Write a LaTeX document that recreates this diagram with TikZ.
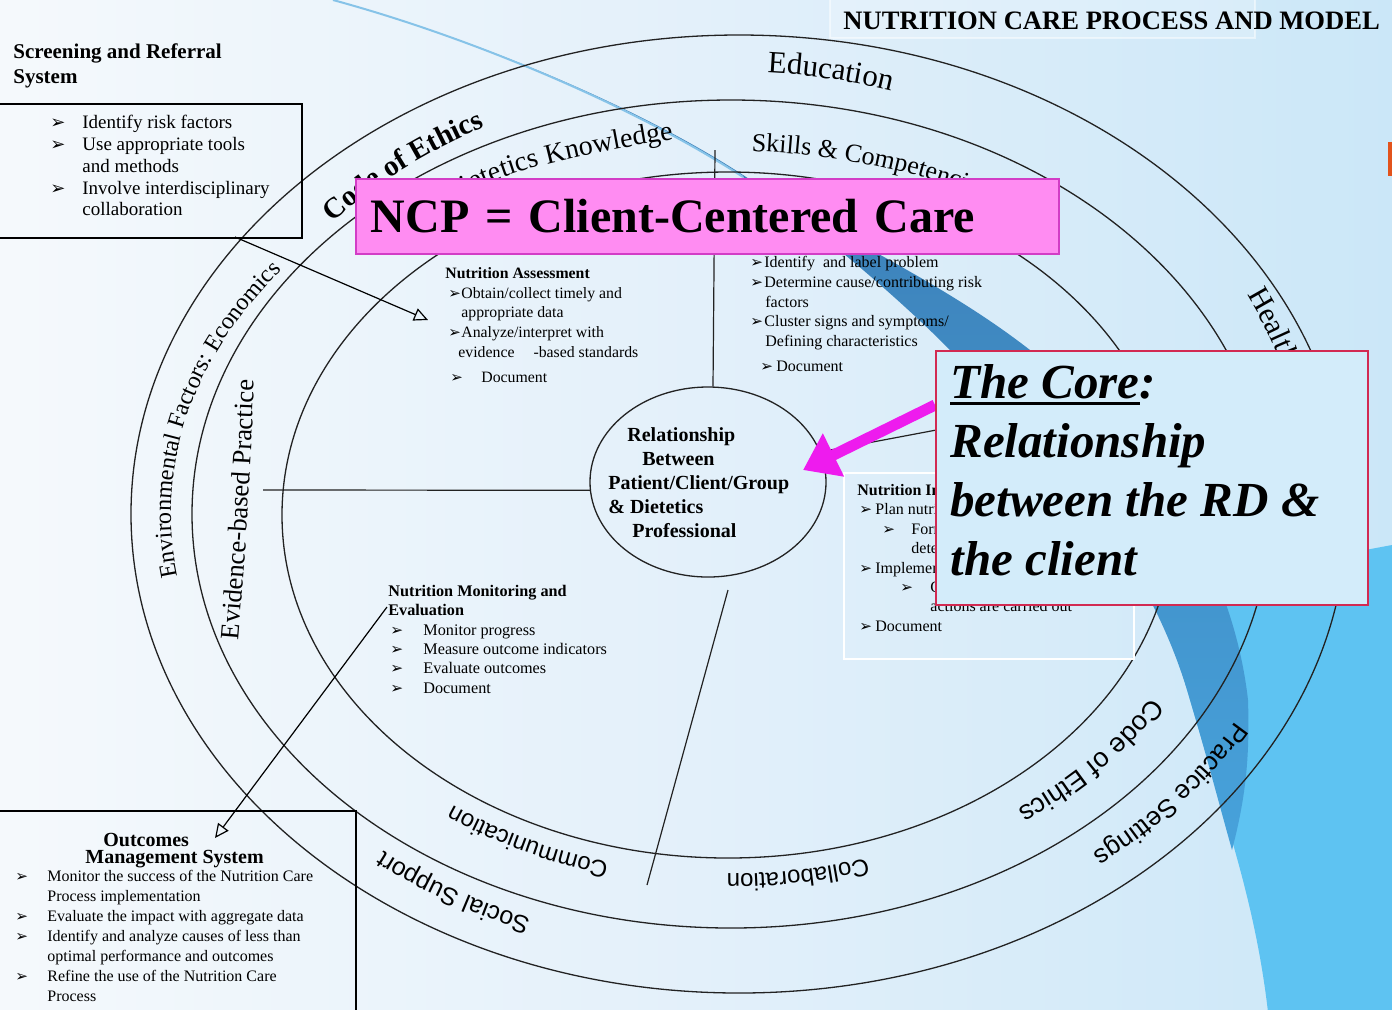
\documentclass[tikz,border=0pt]{standalone}
\usepackage{fontspec}
\setmainfont{Liberation Serif}
\setsansfont{Liberation Sans}
\newfontfamily\dingfont[Scale=0.95]{DejaVu Sans}
\usepackage{xcolor}
\usetikzlibrary{positioning,arrows.meta,shapes.geometric,decorations.text}

\definecolor{SlideLeft}{HTML}{F5F9FC}
\definecolor{SlideMid}{HTML}{E3F0FA}
\definecolor{SlideRight}{HTML}{CBE7F8}
\definecolor{SwooshMid}{HTML}{5EC3F2}
\definecolor{SwooshDeep}{HTML}{3A78B0}
\definecolor{SwooshDark}{HTML}{47A2DB}
\definecolor{SwooshEdge}{HTML}{86C3E8}
\definecolor{NcpPink}{HTML}{FF8CF2}
\definecolor{NcpEdge}{HTML}{D23DC6}
\definecolor{CoreBlue}{HTML}{D3ECFA}
\definecolor{CoreEdge}{HTML}{D22A52}
\definecolor{CoreArrow}{HTML}{EE1BEE}
\definecolor{RingInk}{HTML}{222222}
\definecolor{TabOrange}{HTML}{E2531C}

\newcommand{\arw}{{\dingfont\char"27A2}}
\newcommand{\blt}[1]{\makebox[#1][l]{\arw}}
\newcommand{\coreul}[1]{\setbox0=\hbox{#1}\rlap{\rule[-3.5pt]{\wd0}{1.8pt}}\box0}
\newcommand{\lblfont}[1]{\fontsize{#1}{#1}\selectfont}
% text set along an elliptic arc: centre, x radius, y radius, from, to, text
\newcommand{\arclabel}[6]{%
  \path[decorate, decoration={text along path, text align=center, text={#6}}]
    ([shift={(#4:#2 and #3)}]#1) arc[start angle=#4, end angle=#5, x radius=#2, y radius=#3];}

\begin{document}
\begin{tikzpicture}[x=0.5pt, y=-0.5pt,
    ring/.style={draw=RingInk, line width=0.65pt},
    spoke/.style={draw=RingInk, line width=0.6pt},
    sysbox/.style={rectangle, draw=black, line width=0.8pt, inner sep=0pt, anchor=north west},
    listtext/.style={align=left, anchor=north west, inner sep=0pt},
    feed/.style={draw=black, line width=0.6pt, -{Triangle[open, length=7pt, width=6.5pt]}},
    ncpbox/.style={rectangle, draw=NcpEdge, line width=0.8pt, fill=NcpPink, anchor=north west, inner xsep=7.5pt, align=left, font=\bfseries\fontsize{24}{27}\selectfont},
    corebox/.style={rectangle, draw=CoreEdge, line width=0.8pt, fill=CoreBlue, anchor=north west},
    corearrow/.style={draw=CoreArrow, line width=5.5pt, -{Triangle[length=17pt, width=23pt]}}
  ]
  \useasboundingbox (0,0) rectangle (1392,1009);
  \clip (0,0) rectangle (1392,1009);

  % slide background with the blue swoosh
  \shade[left color=SlideLeft, right color=SlideRight, middle color=SlideMid] (0,0) rectangle (1392,1009);
  \fill[SwooshMid] (1392,545) -- (1392,1012) -- (1268,1012)
    .. controls (1255,900) and (1225,820) .. (1190,700)
    .. controls (1170,630) and (1160,610) .. (1150,590) -- cycle;
  \shade[top color=SwooshDeep, bottom color=SwooshDark] (333,0) .. controls (480,40) and (640,110) .. (743,177)
    .. controls (820,230) and (900,300) .. (945,345)
    .. controls (1060,460) and (1150,560) .. (1190,700)
    .. controls (1205,750) and (1218,800) .. (1232,850)
    .. controls (1245,800) and (1250,760) .. (1248,700)
    .. controls (1232,560) and (1150,440) .. (1030,350)
    .. controls (940,280) and (840,238) .. (743,175)
    .. controls (640,108) and (480,40) .. (333,0) -- cycle;
  \draw[SwooshEdge, line width=1pt] (333,0) .. controls (480,40) and (640,110) .. (743,177);
  \fill[white, fill opacity=0.2] (830,0) rectangle (1255,38);
  \draw[white, line width=0.6pt, opacity=0.5] (830,-2) rectangle (1255,38);
  \fill[TabOrange] (1388,142) rectangle (1393,176);

  % rings
  \coordinate (c1) at (739,514);
  \coordinate (c2) at (731,514);
  \coordinate (c3) at (728,515);
  \coordinate (b1) at (735,514);
  \coordinate (b2) at (729,515);
  \draw[ring] (c1) ellipse [x radius=304pt, y radius=239.5pt];
  \draw[ring] (c2) ellipse [x radius=269.5pt, y radius=207pt];
  \draw[ring] (c3) ellipse [x radius=223pt, y radius=171.5pt];

  % core and spokes
  \node[draw=RingInk, line width=0.65pt, ellipse, minimum width=118pt, minimum height=95pt, inner sep=0pt] (rel) at (708,482) {};
  \coordinate (spokeN) at (715,150);
  \coordinate (spokeW) at (263,490);
  \coordinate (spokeS0) at (728,590);
  \coordinate (spokeS) at (647,885);
  \coordinate (spokeE) at (1000,418);
  \draw[spoke] (rel.87) -- (spokeN);
  \draw[spoke] (rel.184) -- (spokeW);
  \draw[spoke] (spokeS0) -- (spokeS);
  \draw[spoke] (rel.15) -- (spokeE);

  % ring labels
  \arclabel{b1}{272.5pt}{221pt}{110}{49}{|\lblfont{15.5}|Education}
  \arclabel{c3}{260pt}{182pt}{103}{43}{|\lblfont{13}|Skills {\&} Competencies}
  \path[decorate, decoration={text along path, text={|\lblfont{14}|Dietetics Knowledge}}]
    (450,206) .. controls (492,170) and (592,151) .. (732,130);
  \arclabel{b1}{271pt}{218pt}{159}{99}{|\bfseries\lblfont{14.5}|Code of Ethics}
  \arclabel{b1}{282pt}{205pt}{202}{132}{|\lblfont{12}|Environmental Factors: Economics}
  \path[decorate, decoration={text along path, text align=center, text={|\lblfont{13.3}|Evidence-based Practice}}]
    (234,690) .. controls (246,560) and (252,450) .. (256,330);
  \path[decorate, decoration={text along path, text={|\lblfont{15}|Health Care Systems}}]
    ([shift={(27:285pt and 242pt)}]c1) arc[start angle=27, end angle=-60, x radius=285pt, y radius=242pt];
  \arclabel{b2}{244pt}{182pt}{-4.5}{-74.5}{|\sffamily\lblfont{13.5}|Code of Ethics}
  \arclabel{b1}{284.5pt}{218pt}{-2.5}{-72.5}{|\sffamily\lblfont{13}|Practice Settings}
  \arclabel{b2}{235pt}{179.5pt}{-46}{-116}{|\sffamily\lblfont{12}|Collaboration}
  \arclabel{b2}{235pt}{179.5pt}{-82}{-152}{|\sffamily\lblfont{12}|Communication}
  \arclabel{b1}{279.5pt}{217pt}{-87}{-157}{|\sffamily\lblfont{12.5}|Social Support}

  % screening and outcomes systems
  \node[listtext, font=\bfseries\fontsize{10.5}{12.5}\selectfont] (scrhead) at (13,43) {Screening and Referral\\System};
  \node[sysbox, minimum width=151.5pt, minimum height=67pt] (scrbox) at (-2,103) {};
  \node[listtext, font=\fontsize{9.5}{10.9}\selectfont] (scrlist) at (50,115)
    {\blt{16pt}Identify risk factors\\ \blt{16pt}Use appropriate tools\\ \hspace*{16pt}and methods\\
     \blt{16pt}Involve interdisciplinary\\ \hspace*{16pt}collaboration};
  \node[sysbox, minimum width=178.5pt, minimum height=102.5pt] (outbox) at (-2,810) {};
  \node[listtext, font=\bfseries\fontsize{10}{8.5}\selectfont] (outhead) at (85,833) {\hspace*{9pt}Outcomes\\Management System};
  \node[listtext, font=\fontsize{8}{10}\selectfont] (outlist) at (15,870)
    {\blt{16pt}Monitor the success of the Nutrition Care\\ \hspace*{16pt}Process implementation\\
     \blt{16pt}Evaluate the impact with aggregate data\\ \blt{16pt}Identify and analyze causes of less than\\
     \hspace*{16pt}optimal performance and outcomes\\ \blt{16pt}Refine the use of the Nutrition Care\\
     \hspace*{16pt}Process};

  % the four steps
  \node[listtext, font=\bfseries\fontsize{10}{12}\selectfont] (reltext) at (608,427)
    {\hspace*{9.5pt}Relationship\\ \hspace*{17pt}Between\\ Patient/Client/Group\\ \&\ Dietetics\\ \hspace*{12pt}Professional};
  \node[listtext, font=\fontsize{7.9}{9.9}\selectfont] (assess) at (445,267)
    {\textbf{Nutrition Assessment}\\ \hspace*{1.5pt}\blt{6.5pt}Obtain/collect timely and\\ \hspace*{8pt}appropriate data\\
     \hspace*{1.5pt}\blt{6.5pt}Analyze/interpret with\\ \hspace*{6.5pt}evidence\hspace{1.2em}-based standards\\[2.5pt]
     \hspace*{2.5pt}\blt{15.5pt}Document};
  \node[listtext, font=\fontsize{8}{9.85}\selectfont] (diagnose) at (750,256)
    {\blt{7pt}Identify\ \ and label problem\\ \blt{7pt}Determine cause/contributing risk\\ \hspace*{7.5pt}factors\\
     \blt{7pt}Cluster signs and symptoms/\\ \hspace*{7.5pt}Defining characteristics\\[2.75pt]
     \hspace*{5pt}\blt{8pt}Document};
  \node[listtext, font=\fontsize{8.1}{9.65}\selectfont] (monitor) at (388,585)
    {\textbf{Nutrition Monitoring and}\\ \textbf{Evaluation}\\ \hspace*{1pt}\blt{16.5pt}Monitor progress\\
     \hspace*{1pt}\blt{16.5pt}Measure outcome indicators\\ \hspace*{1pt}\blt{16.5pt}Evaluate outcomes\\
     \hspace*{1pt}\blt{16.5pt}Document};
  \node[draw=white, line width=1pt, anchor=north west, minimum width=145pt, minimum height=93pt, inner sep=0pt] (intervbox) at (843,472) {};
  \node[listtext, font=\fontsize{8}{9.7}\selectfont] (interv) at (857,484)
    {\textbf{Nutrition Intervention}\\ \hspace*{1pt}\blt{8pt}Plan nutrition intervention\\
     \hspace*{12.5pt}\blt{14.5pt}Formulate goals and\\ \hspace*{27pt}determine a plan of action\\
     \hspace*{1pt}\blt{8pt}Implement nutrition intervention\\ \hspace*{21.5pt}\blt{15pt}Care is communicated and\\
     \hspace*{36.5pt}actions are carried out\\ \hspace*{1pt}\blt{8pt}Document};

  % feeds between the systems and the process
  \coordinate (scrout) at (235,237);
  \coordinate (assessin) at (428,320);
  \coordinate (monout) at (387,607);
  \coordinate (outin) at (215,838);
  \draw[feed] (scrout) -- (assessin);
  \draw[feed] (monout) -- (outin);

  % callouts
  \coordinate (coretail) at (935,405);
  \coordinate (coretip) at (803,470);
  \draw[corearrow] (coretail) -- (coretip);
  \node[ncpbox, minimum width=351.5pt, minimum height=37.5pt, text width=336.5pt] (ncp) at (355,178) {NCP = Client-Centered Care};
  \node[corebox, minimum width=216pt, minimum height=127pt] (core) at (935,350) {};
  \node[listtext, font=\bfseries\itshape\fontsize{24.5}{29.5}\selectfont] (coretext) at (950,364)
    {\coreul{The Core}:\\Relationship\\between the RD \&\\the client};

  \node[listtext, font=\bfseries\fontsize{13.3}{15}\selectfont] (title) at (843,11) {NUTRITION CARE PROCESS AND MODEL};
\end{tikzpicture}
\end{document}
